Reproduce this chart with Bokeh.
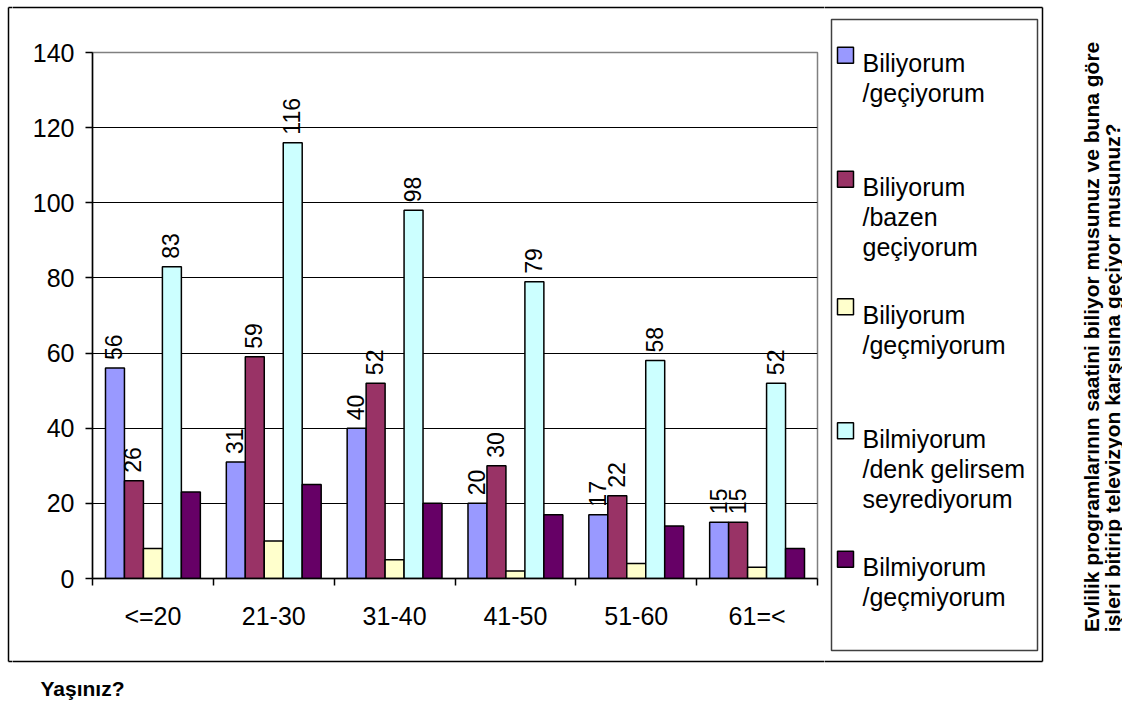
import math
from bokeh.plotting import figure
from bokeh.models import ColumnDataSource, Range1d, FixedTicker, LabelSet, Label
from bokeh.layouts import row, column
from bokeh.core.properties import value
from bokeh.embed import file_html
from bokeh.resources import INLINE

# ---------------- data ----------------
categories = ["<=20", "21-30", "31-40", "41-50", "51-60", "61=<"]
series_names = [
    "Biliyorum\n/geçiyorum",
    "Biliyorum\n/bazen\ngeçiyorum",
    "Biliyorum\n/geçmiyorum",
    "Bilmiyorum\n/denk gelirsem\nseyrediyorum",
    "Bilmiyorum\n/geçmiyorum",
]
biliyorum_geciyorum = [56, 31, 40, 20, 17, 15]
biliyorum_bazen = [26, 59, 52, 30, 22, 15]
biliyorum_gecmiyorum = [8, 10, 5, 2, 4, 3]
bilmiyorum_denk = [83, 116, 98, 79, 58, 52]
bilmiyorum_gecmiyorum = [23, 25, 20, 17, 14, 8]
series_values = [biliyorum_geciyorum, biliyorum_bazen, biliyorum_gecmiyorum,
                 bilmiyorum_denk, bilmiyorum_gecmiyorum]
show_labels = [True, True, False, True, False]
colors = ["#9999FF", "#993366", "#FFFFCC", "#CCFFFF", "#660066"]
y_ticks = [0, 20, 40, 60, 80, 100, 120, 140]
x_title = "Yaşınız?"
side_title = ["Evlilik programlarının saatini biliyor musunuz ve buna göre",
              "işleri bitirip televizyon karşısına geçiyor musunuz?"]

FONT = "Liberation Sans"

# ---------------- layout (page pixel positions) ----------------
XL = 12                  # left strip | main column
XS = 824                 # main column | legend part
XT = 1060                # legend part | side title
XE = 1122                # right end
YT = 38                  # top strip | main chart
YB = 650                 # main chart | bottom strip
YE = 700                 # bottom end
PLOT_L, PLOT_R, PLOT_T, PLOT_B = 92, 817, 52, 578
BOX = (8, 1042, 7, 661)            # outer chart border
LEG = (831, 1037, 19, 650)         # legend box
entry_baselines = [62.7, 186.7, 314.3, 438.3, 566.7]
line_step = 30


def deco(x0, x1, y0, y1, border=True):
    f = figure(width=x1 - x0, height=y1 - y0, x_range=Range1d(x0, x1),
               y_range=Range1d(y1, y0), output_backend="svg",
               toolbar_location=None, x_axis_type=None, y_axis_type=None,
               min_border=0, title=None, frame_align=False)
    f.outline_line_color = None
    f.background_fill_color = "white"
    f.border_fill_color = "white"
    f.xgrid.visible = False
    f.ygrid.visible = False
    if border:
        bl, br, bt, bb = BOX
        f.segment(x0=[bl, br, bl, bl], y0=[bt, bt, bb, bt],
                  x1=[br, br, br, bl], y1=[bt, bb, bb, bb],
                  line_color="black", line_width=1.5)
    return f


def label(fig, x, y, text, size, bold=False, angle=0.0):
    fig.add_layout(Label(x=x, y=y, text=text, angle=angle, text_align="left",
                         text_baseline="alphabetic", text_font=FONT,
                         text_font_size=size, text_color="black",
                         text_font_style="bold" if bold else "normal"))


# ---------------- main chart ----------------
mw, mh = XS - XL, YB - YT
n_cat = len(categories)
p = figure(width=mw, height=mh, x_range=Range1d(0, n_cat), y_range=Range1d(0, 140),
           output_backend="svg", toolbar_location=None, title=None, frame_align=False,
           min_border_left=PLOT_L - XL, min_border_right=XS - PLOT_R,
           min_border_top=PLOT_T - YT, min_border_bottom=YB - PLOT_B)
p.background_fill_color = "white"
p.border_fill_color = "white"
p.outline_line_color = "#808080"
p.outline_line_width = 1.5

bw = 0.157
n_s = len(series_values)
for i, (vals, col) in enumerate(zip(series_values, colors)):
    off = (i - (n_s - 1) / 2) * bw
    xs = [k + 0.5 + off for k in range(n_cat)]
    src = ColumnDataSource(dict(x=xs, top=vals, txt=[str(v) for v in vals]))
    p.vbar(x="x", top="top", bottom=0, width=bw, source=src,
           fill_color=col, line_color="black", line_width=1.5)
    if show_labels[i]:
        p.add_layout(LabelSet(x="x", y="top", text="txt", source=src,
                              angle=math.pi / 2, text_align="left",
                              text_baseline="middle", y_offset=8, x_offset=-1,
                              text_font=value(FONT), text_font_size=value("23px"),
                              text_color="black"))

p.yaxis.ticker = FixedTicker(ticks=y_ticks)
p.yaxis.major_label_text_font = FONT
p.yaxis.major_label_text_font_size = "25px"
p.yaxis.major_label_text_color = "black"
p.yaxis.axis_line_color = "black"
p.yaxis.axis_line_width = 1.5
p.yaxis.major_tick_line_color = "black"
p.yaxis.major_tick_line_width = 1.5
p.yaxis.major_tick_out = 7
p.yaxis.major_tick_in = 0
p.yaxis.minor_tick_line_color = None
p.yaxis.major_label_standoff = 11

centers = [k + 0.5 for k in range(n_cat)]
p.xaxis.ticker = FixedTicker(ticks=centers, minor_ticks=list(range(n_cat + 1)))
p.xaxis.major_label_overrides = {c: lab for c, lab in zip(centers, categories)}
p.xaxis.major_label_text_font = FONT
p.xaxis.major_label_text_font_size = "25px"
p.xaxis.major_label_text_color = "black"
p.xaxis.axis_line_color = "black"
p.xaxis.axis_line_width = 1.5
p.xaxis.major_tick_out = 0
p.xaxis.major_tick_in = 0
p.xaxis.major_tick_line_color = None
p.xaxis.minor_tick_out = 7
p.xaxis.minor_tick_in = 0
p.xaxis.minor_tick_line_color = "black"
p.xaxis.minor_tick_line_width = 1.5
p.xaxis.major_label_standoff = 16

p.xgrid.grid_line_color = None
p.ygrid.ticker = FixedTicker(ticks=y_ticks[1:-1])
p.ygrid.grid_line_color = "black"
p.ygrid.grid_line_width = 1

# ---------------- decoration pieces ----------------
lstrip = deco(0, XL, 0, YE)
top = deco(XL, XS, 0, YT)
bottom = deco(XL, XS, YB, YE)
label(bottom, 40, 688, x_title, "21px", bold=True)

leg = deco(XS, XT, 0, YE)
ll, lr, lt, lb = LEG
leg.quad(left=[ll], right=[lr], top=[lt], bottom=[lb], fill_color=None,
         line_color="#404040", line_width=1.5)
leg.quad(left=[837] * n_s, right=[853] * n_s,
         top=[b - 16 for b in entry_baselines], bottom=entry_baselines,
         fill_color=colors, line_color="black", line_width=1.5)
for name, base in zip(series_names, entry_baselines):
    for j, line in enumerate(name.split("\n")):
        label(leg, 862, base + j * line_step, line, "25px")

side = deco(XT, XE, 0, YE, border=False)
for line, bx in zip(side_title, [1091, 1112]):
    label(side, bx, 631.7, line, "21px", bold=True, angle=math.pi / 2)

layout = row(lstrip, column(top, p, bottom), leg, side)

open("out.html", "w").write(file_html(layout, INLINE))
